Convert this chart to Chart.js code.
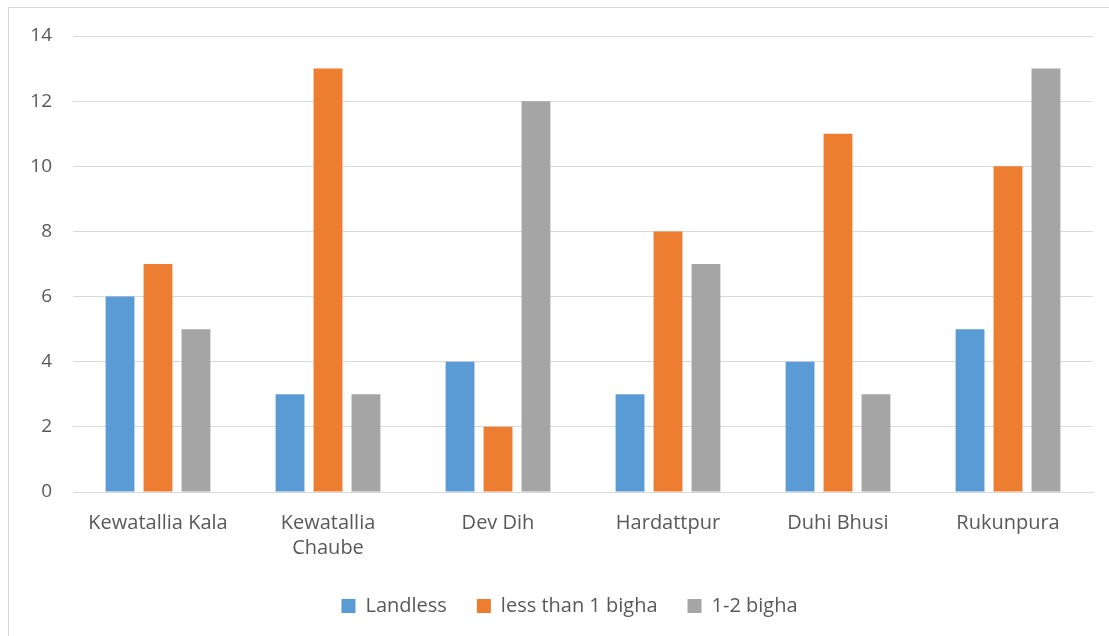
<!DOCTYPE html>
<html>
<head>
<meta charset="utf-8">
<script src="https://cdn.jsdelivr.net/npm/chart.js@4"></script>
<style>
  html, body { margin: 0; padding: 0; background: #fff; }
  body { width: 1109px; height: 636px; position: relative; overflow: hidden; }
  #frame {
    position: absolute; left: 8px; top: 7px; width: 1130px; height: 660px;
    border: 1px solid #d9d9d9; box-sizing: border-box;
  }
  #wrap { position: absolute; left: 0; top: 0; width: 1109px; height: 636px; }
</style>
</head>
<body>
<div id="frame"></div>
<div id="wrap"><canvas id="landChart" width="1109" height="636"></canvas></div>
<script>
// villages and holding groups
const villages = ['Kewatallia Kala', ['Kewatallia', 'Chaube'], 'Dev Dih', 'Hardattpur', 'Duhi Bhusi', 'Rukunpura'];
const landless = [6, 3, 4, 3, 4, 5];
const lessThan1Bigha = [7, 13, 2, 8, 11, 10];
const oneToTwoBigha = [5, 3, 12, 7, 3, 13];
const yTicks = [0, 2, 4, 6, 8, 10, 12, 14];

const textColor = '#595959';
const fontFamily = '"Open Sans", "Noto Sans", sans-serif';

// the legend sits centred on the whole frame, which runs past the plot on the right
const legendShift = {
  id: 'legendShift',
  afterLayout(chart) {
    chart.legend.left += 23;
    chart.legend.right += 23;
  }
};

const ctx = document.getElementById('landChart');
new Chart(ctx, {
  type: 'bar',
  data: {
    labels: villages,
    datasets: [
      { label: 'Landless', data: landless, backgroundColor: '#5b9bd5' },
      { label: 'less than 1 bigha', data: lessThan1Bigha, backgroundColor: '#ed7d31' },
      { label: '1-2 bigha', data: oneToTwoBigha, backgroundColor: '#a5a5a5' }
    ]
  },
  options: {
    responsive: false,
    animation: false,
    devicePixelRatio: 1,
    layout: { padding: { left: 0, right: 16, top: 36, bottom: 10 } },
    datasets: {
      bar: { categoryPercentage: 0.67, barPercentage: 0.76, borderWidth: 0 }
    },
    scales: {
      x: {
        afterFit: (scale) => { scale.height = 74; },
        grid: { display: false, drawTicks: false },
        border: { display: true, color: '#d9d9d9', width: 1 },
        ticks: {
          color: textColor, font: { family: fontFamily, size: 20, lineHeight: 1.25 },
          padding: 19, maxRotation: 0, autoSkip: false
        }
      },
      y: {
        min: 0, max: 14,
        afterFit: (scale) => { scale.width = 73; },
        afterBuildTicks: (scale) => { scale.ticks = yTicks.map(v => ({ value: v })); },
        grid: { color: '#d9d9d9', lineWidth: 1, drawTicks: false },
        border: { display: false },
        ticks: {
          color: textColor, font: { family: fontFamily, size: 19 },
          padding: 21
        }
      }
    },
    plugins: {
      tooltip: { enabled: false },
      legend: {
        position: 'bottom',
        labels: {
          color: textColor, font: { family: fontFamily, size: 20 },
          boxWidth: 14, boxHeight: 14, padding: 30
        }
      }
    }
  },
  plugins: [legendShift]
});
</script>
</body>
</html>
